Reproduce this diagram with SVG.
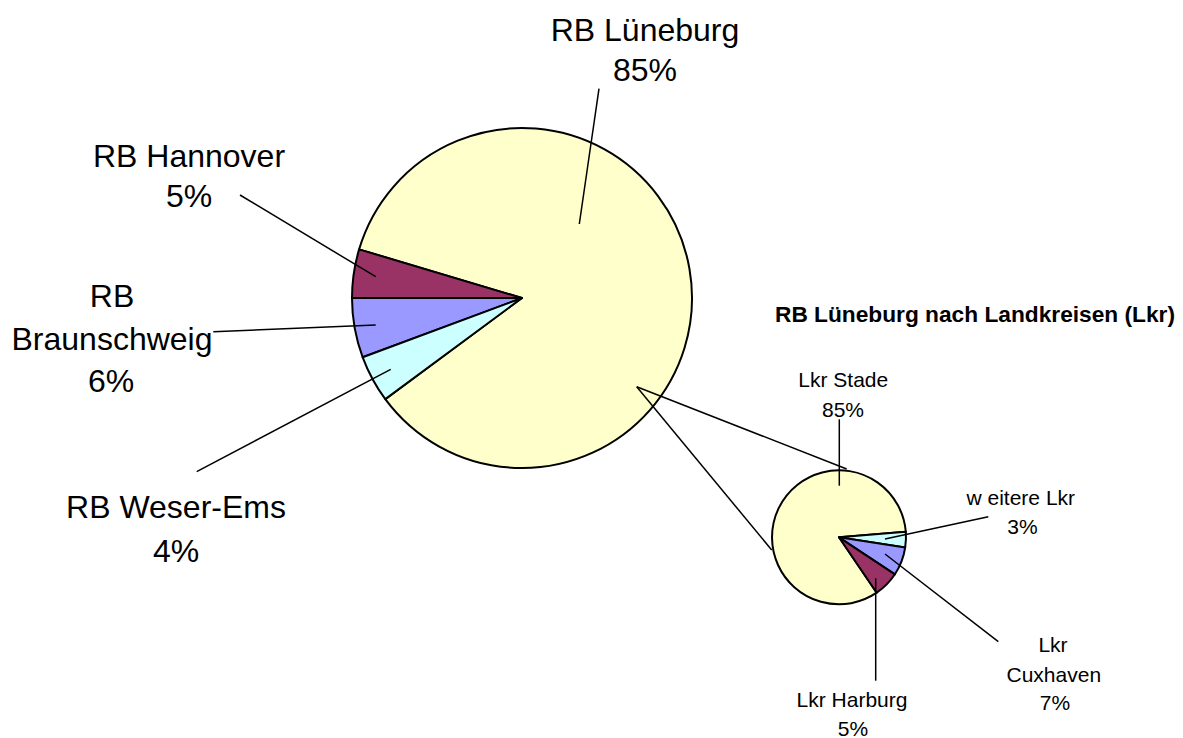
<svg xmlns="http://www.w3.org/2000/svg" width="1183" height="738" viewBox="0 0 1183 738">
<style>
.slice{stroke:#000;stroke-width:2;stroke-linejoin:round}
.y{fill:#FFFFCC}.p{fill:#993366}.b{fill:#9999FF}.c{fill:#CCFFFF}
.ln{stroke:#000;stroke-width:1.5;fill:none}
.big{font-family:"Liberation Sans",Arial,sans-serif;font-size:32px;fill:#000;text-anchor:middle}
.sm{font-family:"Liberation Sans",Arial,sans-serif;font-size:21px;fill:#000;text-anchor:middle}
.ttl{font-family:"Liberation Sans",Arial,sans-serif;font-size:22.5px;font-weight:bold;fill:#000}
</style>
<rect width="1183" height="738" fill="#fff"/>
<g id="pie-main">
<path class="slice y" d="M522,298 L385.3,399.1 A170,170 0 1 0 359.1,249.4 Z"/>
<path class="slice p" d="M522,298 L359.1,249.4 A170,170 0 0 0 352,298 Z"/>
<path class="slice b" d="M522,298 L352,298 A170,170 0 0 0 362.7,357.3 Z"/>
<path class="slice c" d="M522,298 L362.7,357.3 A170,170 0 0 0 385.3,399.1 Z"/>
</g>
<g id="pie-detail">
<path class="slice y" d="M839,537.3 L876.7,592.7 A67,67 0 1 1 905.8,531.7 Z"/>
<path class="slice c" d="M839,537.3 L905.8,531.7 A67,67 0 0 1 905.2,547.4 Z"/>
<path class="slice b" d="M839,537.3 L905.2,547.4 A67,67 0 0 1 894.9,574.3 Z"/>
<path class="slice p" d="M839,537.3 L894.9,574.3 A67,67 0 0 1 876.7,592.7 Z"/>
</g>
<g id="connectors">
<line class="ln" x1="636.7" y1="386.7" x2="846.7" y2="469"/>
<line class="ln" x1="636.7" y1="386.7" x2="771.7" y2="550"/>
<line class="ln" x1="599" y1="88.7" x2="579.3" y2="224"/>
<line class="ln" x1="240" y1="195" x2="375.7" y2="276.7"/>
<line class="ln" x1="213.3" y1="331.7" x2="375.7" y2="325"/>
<line class="ln" x1="196.7" y1="471.7" x2="390.7" y2="369.3"/>
<line class="ln" x1="839.3" y1="419.3" x2="839.3" y2="485.7"/>
<line class="ln" x1="988.3" y1="516.7" x2="885" y2="539"/>
<line class="ln" x1="998.3" y1="641.7" x2="885" y2="554"/>
<line class="ln" x1="875.7" y1="578.3" x2="875.7" y2="680.7"/>
</g>
<g id="label-lueneburg"><text class="big" x="645" y="40.7">RB Lüneburg</text><text class="big" x="645" y="80.7">85%</text></g>
<g id="label-hannover"><text class="big" x="189" y="166.7">RB Hannover</text><text class="big" x="189" y="207">5%</text></g>
<g id="label-braunschweig"><text class="big" x="112" y="306.7">RB</text><text class="big" x="112" y="350">Braunschweig</text><text class="big" x="111" y="391.7">6%</text></g>
<g id="label-weser-ems"><text class="big" x="176" y="518.3">RB Weser-Ems</text><text class="big" x="176" y="561.7">4%</text></g>
<g id="title"><text class="ttl" x="775" y="321.7" textLength="400" lengthAdjust="spacingAndGlyphs">RB Lüneburg nach Landkreisen (Lkr)</text></g>
<g id="label-stade"><text class="sm" x="843.3" y="386.7">Lkr Stade</text><text class="sm" x="843" y="416.7">85%</text></g>
<g id="label-weitere"><text class="sm" x="1020.8" y="505">w eitere Lkr</text><text class="sm" x="1022.5" y="534.3">3%</text></g>
<g id="label-cuxhaven"><text class="sm" x="1053" y="651.7">Lkr</text><text class="sm" x="1053.8" y="682.3">Cuxhaven</text><text class="sm" x="1055" y="710">7%</text></g>
<g id="label-harburg"><text class="sm" x="852" y="707.3">Lkr Harburg</text><text class="sm" x="853" y="735.5">5%</text></g>
</svg>
